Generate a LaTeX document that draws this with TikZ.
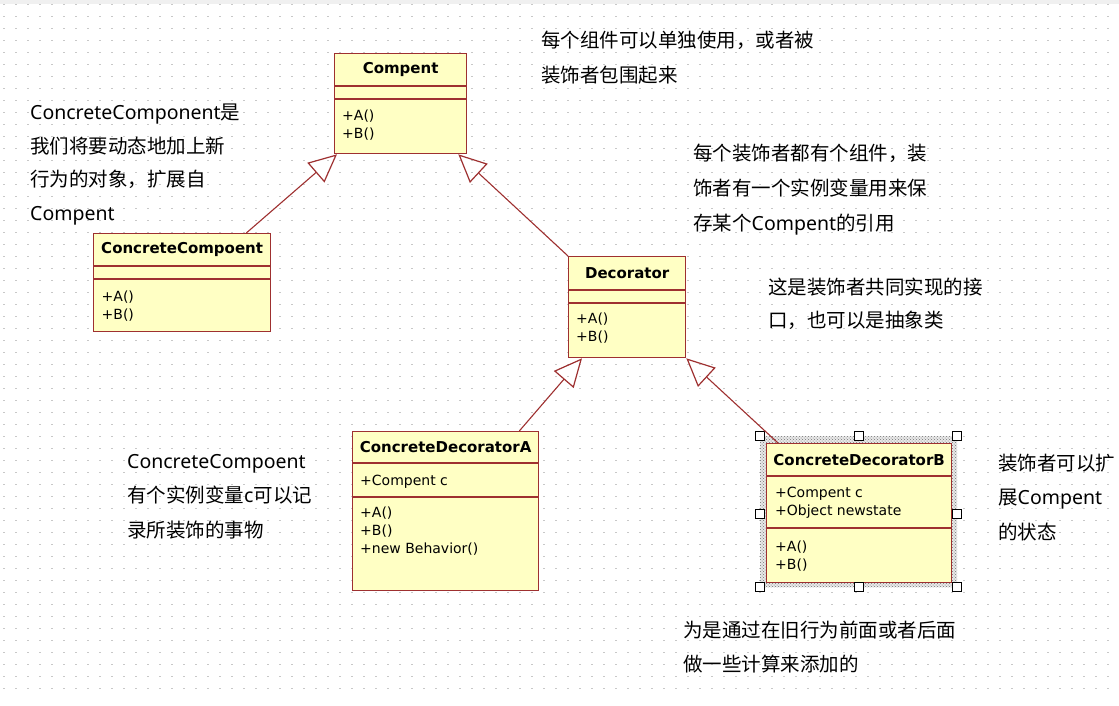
\documentclass[tikz,border=0pt]{standalone}
\usepackage{fontspec}
\setmainfont{DejaVu Sans}
\newfontfamily\cjk{Noto Sans CJK SC}
\newfontfamily\latn{Noto Sans}
\usepackage{tikz}
\usetikzlibrary{arrows.meta, positioning, patterns}
\definecolor{umlred}{RGB}{158,48,48}
\definecolor{umlfill}{RGB}{255,255,196}
\definecolor{griddot}{RGB}{200,200,200}

\begin{document}
\begin{tikzpicture}[x=1pt, y=-1pt,
cls/.style={draw=umlred, fill=umlfill, line width=1.3pt, anchor=north west, inner sep=0pt},
clstitle/.style={font=\fontsize{15}{17}\selectfont\bfseries},
member/.style={font=\fontsize{14}{18}\selectfont, align=left, anchor=north west, inner sep=0pt},
sep/.style={draw=umlred, line width=1.3pt},
gen/.style={draw=umlred, line width=1.1pt, -{Triangle[open, length=28pt, width=26pt, line width=1.2pt]}},
note/.style={font=\fontsize{19.5}{34.5}\selectfont\cjk, align=left, anchor=base west, inner sep=0pt},
handle/.style={draw=black, fill=white, line width=1pt, minimum size=9pt, inner sep=0pt}
]
\useasboundingbox (0,0) rectangle (1119,705);
\clip (0,0) rectangle (1119,705);
% dotted background
\fill[white] (0,0) rectangle (1119,705);
\foreach \y in {4.5,16.5,...,700}
  \draw[griddot, line width=1.6pt, dash pattern=on 1.6pt off 10.4pt] (3.2,\y) -- (1119,\y);
\fill[gray!12] (0,0) rectangle (1119,3.5);

% selection of ConcreteDecoratorB
\fill[gray!18] (760,436) rectangle (957,587);
\fill[pattern=crosshatch dots, pattern color=black!55] (760,436) rectangle (957,587);

% classes
\node[cls, minimum width=132pt, minimum height=100pt] (comp) at (334,53) {};
\node[clstitle] (comp-t) at ([yshift=-16.5pt]comp.north) {Compent};
\draw[sep] ([yshift=-33pt]comp.north west) -- ([yshift=-33pt]comp.north east);
\draw[sep] ([yshift=-46pt]comp.north west) -- ([yshift=-46pt]comp.north east);
\node[member] (comp-m) at ([xshift=8pt, yshift=-57pt]comp.north west) {+A()\\+B()};

\node[cls, minimum width=177pt, minimum height=98pt] (cc) at (93,233) {};
\node[clstitle] (cc-t) at ([yshift=-16pt]cc.north) {ConcreteCompoent};
\draw[sep] ([yshift=-33pt]cc.north west) -- ([yshift=-33pt]cc.north east);
\draw[sep] ([yshift=-46pt]cc.north west) -- ([yshift=-46pt]cc.north east);
\node[member] (cc-m) at ([xshift=8.5pt, yshift=-58pt]cc.north west) {+A()\\+B()};

\node[cls, minimum width=117pt, minimum height=101pt] (dec) at (568,256) {};
\node[clstitle] (dec-t) at ([yshift=-17pt]dec.north) {Decorator};
\draw[sep] ([yshift=-34pt]dec.north west) -- ([yshift=-34pt]dec.north east);
\draw[sep] ([yshift=-47pt]dec.north west) -- ([yshift=-47pt]dec.north east);
\node[member] (dec-m) at ([xshift=8pt, yshift=-57pt]dec.north west) {+A()\\+B()};

\node[cls, minimum width=186pt, minimum height=159pt] (cda) at (352,431) {};
\node[clstitle] (cda-t) at ([yshift=-16pt]cda.north) {ConcreteDecoratorA};
\draw[sep] ([yshift=-32pt]cda.north west) -- ([yshift=-32pt]cda.north east);
\draw[sep] ([yshift=-66pt]cda.north west) -- ([yshift=-66pt]cda.north east);
\node[member] (cda-a) at ([xshift=8pt, yshift=-44pt]cda.north west) {+Compent c};
\node[member] (cda-m) at ([xshift=8pt, yshift=-76pt]cda.north west) {+A()\\+B()\\+new Behavior()};

\node[cls, minimum width=185pt, minimum height=139pt] (cdb) at (766,443) {};
\node[clstitle] (cdb-t) at ([yshift=-17pt]cdb.north) {ConcreteDecoratorB};
\draw[sep] ([yshift=-33pt]cdb.north west) -- ([yshift=-33pt]cdb.north east);
\draw[sep] ([yshift=-85pt]cdb.north west) -- ([yshift=-85pt]cdb.north east);
\node[member] (cdb-a) at ([xshift=9pt, yshift=-44pt]cdb.north west) {+Compent c\\+Object newstate};
\node[member] (cdb-m) at ([xshift=9pt, yshift=-98pt]cdb.north west) {+A()\\+B()};

% selection handles
\foreach \hx in {760,859,957}
  \foreach \hy in {436,587}
    \node[handle] at (\hx,\hy) {};
\node[handle] at (760,514) {};
\node[handle] at (957,514) {};

% generalizations
\draw[gen] ([xshift=-25pt]cc.north east) -- ([xshift=3pt]comp.south west);
\draw[gen] (dec.north west) -- ([xshift=-9pt]comp.south east);
\draw[gen] ([xshift=-20pt]cda.north east) -- ([xshift=14pt]dec.south west);
\draw[gen] ([xshift=12pt]cdb.north west) -- (dec.south east);

% notes (placed at the baseline of their last line)
\node[note] (n1) at (541,82) {每个组件可以单独使用，或者被\\装饰者包围起来};
\node[note, font=\fontsize{19.5}{33.5}\selectfont\cjk] (n2) at (30,220) {{\latn ConcreteComponent}是\\我们将要动态地加上新\\行为的对象，扩展自\\{\latn Compent}};
\node[note, font=\fontsize{19.5}{35}\selectfont\cjk] (n3) at (693,230) {每个装饰者都有个组件，装\\饰者有一个实例变量用来保\\存某个{\latn Compent}的引用};
\node[note, font=\fontsize{19.5}{33}\selectfont\cjk] (n4) at (768,327) {这是装饰者共同实现的接\\口，也可以是抽象类};
\node[note] (n5) at (127,537) {{\latn ConcreteCompoent}\\有个实例变量{\latn c}可以记\\录所装饰的事物};
\node[note] (n6) at (998,539) {装饰者可以扩\\展{\latn Compent}\\的状态};
\node[note, font=\fontsize{19.5}{34}\selectfont\cjk] (n7) at (683,671) {为是通过在旧行为前面或者后面\\做一些计算来添加的};
\end{tikzpicture}
\end{document}
